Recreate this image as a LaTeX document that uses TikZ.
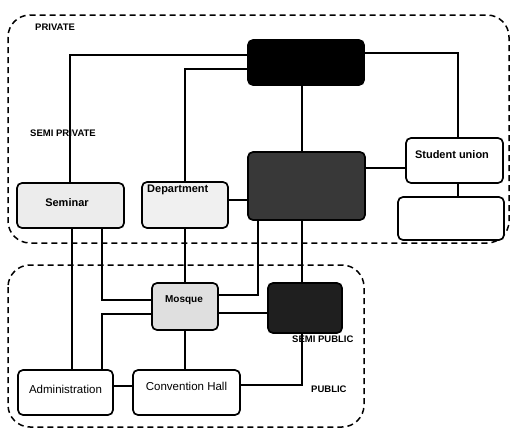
\documentclass[tikz,border=0pt]{standalone}
\usepackage{fontspec}
\setmainfont{Liberation Sans}
\begin{document}
\begin{tikzpicture}[x=1pt,y=-1pt,
  nbox/.style={draw, line width=1.7pt, rounded corners=5pt, inner sep=0pt},
  conn/.style={line width=1.2pt},
  region/.style={line width=1.5pt, dash pattern=on 6pt off 4pt, rounded corners=22pt},
  zonelbl/.style={font=\fontsize{9.5}{10}\selectfont\bfseries, inner sep=0pt, anchor=west},
  boxlbl/.style={font=\fontsize{11}{12}\selectfont\bfseries, inner sep=0pt},
  plainlbl/.style={font=\fontsize{11.5}{12}\selectfont, inner sep=0pt}]
\useasboundingbox (0,0) rectangle (512,439);
\fill[white] (0,0) rectangle (512,439);
% zones
\draw[region] (8,15) rectangle (509,243);
\draw[region] (8,265) rectangle (364,427);
% nodes
\node[nbox, fill=gray!15, minimum width=107pt, minimum height=45pt] (sem) at (70.5,205.5) {};
\node[nbox, fill=gray!12, minimum width=86pt, minimum height=46pt] (dep) at (185,205) {};
\node[nbox, fill=black, minimum width=116pt, minimum height=45pt] (top) at (306,62.5) {};
\node[nbox, fill=black!78, minimum width=117pt, minimum height=68pt] (big) at (306.5,186) {};
\node[nbox, fill=white, minimum width=97pt, minimum height=45pt] (su) at (454.5,160.5) {};
\node[nbox, fill=white, minimum width=106pt, minimum height=43pt] (eb) at (451,218.5) {};
\node[nbox, fill=gray!25, minimum width=66pt, minimum height=47pt] (mos) at (185,306.5) {};
\node[nbox, fill=black!88, minimum width=74pt, minimum height=50pt] (sp) at (305,308) {};
\node[nbox, fill=white, minimum width=95pt, minimum height=45pt] (adm) at (65.5,392.5) {};
\node[nbox, fill=white, minimum width=107pt, minimum height=45pt] (conv) at (186.5,392.5) {};
% connectors
\draw[conn] (top.west |- 0,55) -| (70,0 |- sem.north);
\draw[conn] (top.west |- 0,69) -| (dep.north);
\draw[conn] (top.east |- 0,53) -| (458,0 |- su.north);
\draw[conn] (302,0 |- top.south) -- (302,0 |- big.north);
\draw[conn] (big.east |- 0,168) -- (su.west |- 0,168);
\draw[conn] (dep.east |- 0,200) -- (big.west |- 0,200);
\draw[conn] (458,0 |- su.south) -- (458,0 |- eb.north);
\draw[conn] (72,0 |- sem.south) -- (72,0 |- adm.north);
\draw[conn] (102,0 |- sem.south) |- (mos.west |- 0,300);
\draw[conn] (102,0 |- adm.north) |- (mos.west |- 0,314);
\draw[conn] (dep.south) -- (mos.north);
\draw[conn] (mos.east |- 0,313) -- (sp.west |- 0,313);
\draw[conn] (185,0 |- mos.south) -- (185,0 |- conv.north);
\draw[conn] (adm.east |- 0,386) -- (conv.west |- 0,386);
\draw[conn] (conv.east |- 0,385) -| (302,0 |- sp.south);
\draw[conn] (258,0 |- big.south) |- (mos.east |- 0,295);
\draw[conn] (302,0 |- big.south) -- (302,0 |- sp.north);
% texts
\node[boxlbl] (semt) at (67,203) {Seminar};
\node[boxlbl, anchor=west] (dept) at (147,190) {Department};
\node[boxlbl, font=\fontsize{10}{11}\selectfont\bfseries] (most) at (184,300) {Mosque};
\node[boxlbl] (sut) at (452,155) {Student union};
\node[plainlbl] (admt) at (65.5,389) {Administration};
\node[plainlbl] (convt) at (186.5,386) {Convention Hall};
\node[zonelbl] (zpriv) at (35,27) {PRIVATE};
\node[zonelbl] (zspriv) at (30,133) {SEMI PRIVATE};
\node[zonelbl] (zspub) at (292,339) {SEMI PUBLIC};
\node[zonelbl] (zpub) at (311,389) {PUBLIC};
\end{tikzpicture}
\end{document}
